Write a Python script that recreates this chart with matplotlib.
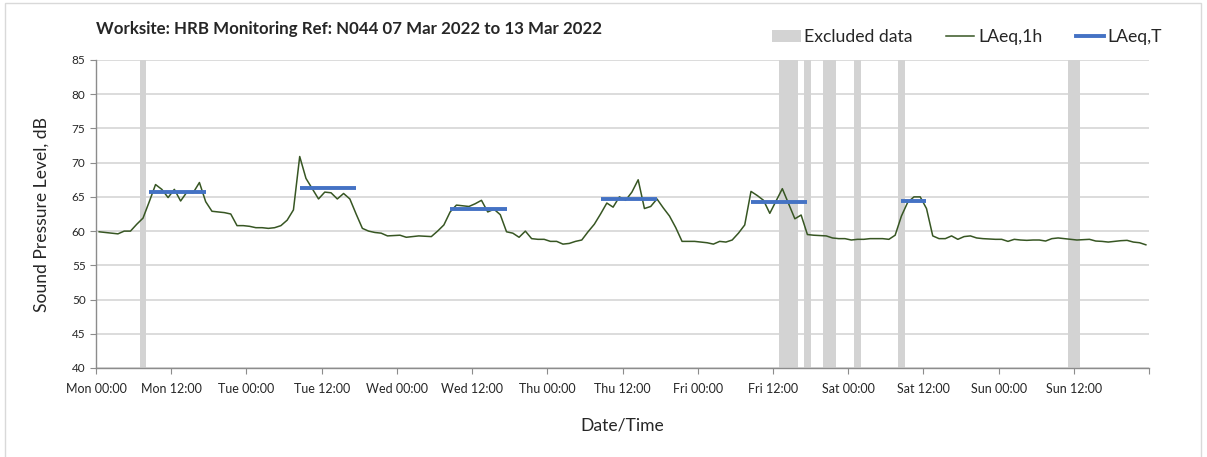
import matplotlib
matplotlib.use('Agg')
import matplotlib.pyplot as plt
import matplotlib.dates as mdates
from matplotlib.patches import Patch, Rectangle
from matplotlib.lines import Line2D
from matplotlib.ticker import FuncFormatter
import pandas as pd

plt.rcParams['font.family'] = ['Lato', 'DejaVu Sans']

# hourly LAeq,1h (dB), one list per day, values plotted at mid-hour
mon = [59.9, 59.8, 59.7, 59.6, 60.0, 60.0, 61.0, 61.9, 64.3, 66.8, 66.1, 64.9,
       66.1, 64.4, 65.7, 65.6, 67.1, 64.3, 62.9, 62.8, 62.7, 62.5, 60.8, 60.8]
tue = [60.7, 60.5, 60.5, 60.4, 60.5, 60.8, 61.6, 63.1, 70.9, 67.7, 66.2, 64.7,
       65.7, 65.6, 64.7, 65.5, 64.7, 62.5, 60.4, 60.0, 59.8, 59.7, 59.3, 59.35]
wed = [59.4, 59.1, 59.2, 59.3, 59.25, 59.2, 60.0, 60.9, 62.8, 63.8, 63.7, 63.6,
       64.0, 64.5, 62.8, 63.2, 62.4, 59.9, 59.7, 59.1, 60.0, 58.9, 58.8, 58.8]
thu = [58.5, 58.5, 58.1, 58.2, 58.5, 58.7, 59.9, 61.0, 62.5, 64.1, 63.5, 65.0,
       64.5, 65.7, 67.5, 63.3, 63.6, 64.7, 63.4, 62.2, 60.5, 58.5, 58.5, 58.5]
fri = [58.4, 58.3, 58.1, 58.5, 58.4, 58.7, 59.7, 60.9, 65.8, 65.2, 64.5, 62.6,
       64.4, 66.2, 64.0, 61.8, 62.35, 59.5, 59.4, 59.35, 59.3, 59.0, 58.9, 58.9]
sat = [58.7, 58.8, 58.8, 58.9, 58.9, 58.9, 58.8, 59.4, 62.2, 64.2, 65.0, 65.0,
       63.3, 59.3, 58.9, 58.9, 59.3, 58.8, 59.2, 59.3, 59.0, 58.9, 58.85, 58.8]
sun = [58.8, 58.5, 58.8, 58.7, 58.65, 58.7, 58.7, 58.55, 58.9, 59.0, 58.9, 58.8,
       58.7, 58.75, 58.8, 58.55, 58.5, 58.4, 58.5, 58.6, 58.65, 58.4, 58.3, 58.0]
laeq_1h = mon + tue + wed + thu + fri + sat + sun
times = pd.date_range('2022-03-07 00:30', periods=len(laeq_1h), freq='h')

# LAeq,T for each daytime period
period_start = ['2022-03-07 08:30', '2022-03-08 08:30', '2022-03-09 08:30',
                '2022-03-10 08:30', '2022-03-11 08:30', '2022-03-12 08:30']
period_end = ['2022-03-07 17:30', '2022-03-08 17:30', '2022-03-09 17:30',
              '2022-03-10 17:30', '2022-03-11 17:30', '2022-03-12 12:30']
laeq_t = [65.7, 66.3, 63.3, 64.7, 64.3, 64.4]

# excluded data periods
excl_start = ['2022-03-07 07:00', '2022-03-11 13:00', '2022-03-11 17:00', '2022-03-11 20:00',
              '2022-03-12 01:00', '2022-03-12 08:00', '2022-03-13 11:00']
excl_end = ['2022-03-07 08:00', '2022-03-11 16:00', '2022-03-11 18:00', '2022-03-11 22:00',
            '2022-03-12 02:00', '2022-03-12 09:00', '2022-03-13 13:00']

t0 = pd.Timestamp('2022-03-07 00:00')
t1 = pd.Timestamp('2022-03-14 00:00')

fig = plt.figure(figsize=(12.07, 4.57), dpi=100)
ax = fig.add_axes([96/1207, 89/457, 1053/1207, 308/457])

grey = '#d3d3d3'
green = '#375623'
blue = '#4472c4'

for s, e in zip(excl_start, excl_end):
    ax.axvspan(pd.Timestamp(s), pd.Timestamp(e), color=grey, lw=0, zorder=1)

ax.plot(times, laeq_1h, color=green, lw=1.1, zorder=3)
for s, e, v in zip(period_start, period_end, laeq_t):
    ax.plot([pd.Timestamp(s), pd.Timestamp(e)], [v, v], color=blue, lw=2.8,
            solid_capstyle='butt', zorder=4)

ax.set_xlim(t0, t1)
ax.set_ylim(40, 85)
ax.set_yticks(range(40, 86, 5))

ax.xaxis.set_major_locator(mdates.HourLocator(byhour=[0, 12]))
ax.xaxis.set_minor_locator(mdates.HourLocator(byhour=[0]))
end_num = mdates.date2num(t1)
ax.xaxis.set_major_formatter(FuncFormatter(
    lambda x, p: '' if x >= end_num - 1e-6 else mdates.num2date(x).strftime('%a %H:%M')))

ax.grid(axis='y', color='#d9d9d9', lw=1.3, zorder=0)
ax.grid(axis='x', which='minor', color='#e3e3e3', lw=1.0, zorder=0)
ax.set_axisbelow(True)
for side in ['top', 'right']:
    ax.spines[side].set_visible(False)
for side in ['left', 'bottom']:
    ax.spines[side].set_color('#8c8c8c')
    ax.spines[side].set_linewidth(1.0)
ax.tick_params(axis='y', which='major', length=4, color='#8c8c8c', labelsize=8.5,
               labelcolor='#262626')
ax.tick_params(axis='x', which='major', length=4, color='#8c8c8c', labelsize=9,
               labelcolor='#262626', pad=7)
ax.tick_params(axis='x', which='minor', length=0)

ax.set_ylabel('Sound Pressure Level, dB', fontsize=12.6, color='#262626', labelpad=16)
ax.set_xlabel('Date/Time', fontsize=12.6, color='#262626', labelpad=16)

fig.text(96/1207, 1 - 29/457, 'Worksite: HRB Monitoring Ref: N044 07 Mar 2022 to 13 Mar 2022',
         fontsize=12.2, fontweight='bold', color='#262626', va='center', ha='left')

handles = [Patch(color=grey, lw=0),
           Line2D([], [], color=green, lw=1.1),
           Line2D([], [], color=blue, lw=2.8)]
fig.legend(handles, ['Excluded data', 'LAeq,1h', 'LAeq,T'], ncol=3, frameon=False,
           loc='center right', bbox_to_anchor=(1162/1207, 1 - 37/457), fontsize=12.7,
           handlelength=1.6, handletextpad=0.2, columnspacing=1.9, labelcolor='#262626',
           borderaxespad=0, borderpad=0)

fig.patches.append(Rectangle((5/1207, -0.02), 1196/1207, 1 - 3/457 + 0.02,
                             transform=fig.transFigure, fill=False,
                             edgecolor='#d9d9d9', lw=1.0))

fig.savefig('out.png', dpi=100)
